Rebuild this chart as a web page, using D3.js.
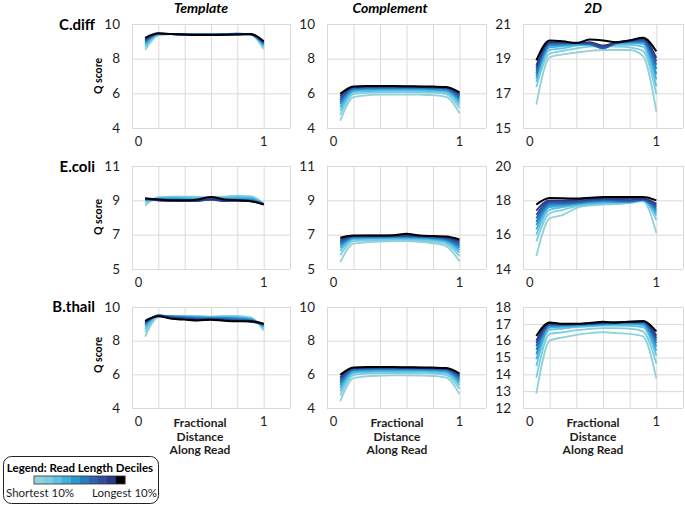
<!DOCTYPE html>
<html><head><meta charset="utf-8">
<script src="https://cdn.jsdelivr.net/npm/d3@7"></script>
<style>body{margin:0;background:#fff}svg{display:block}text{font-family:Lato,"Open Sans",sans-serif}</style>
</head><body>
<svg id="c" width="685" height="505"></svg>
<script>
// ---- data ----
const xPositions = [0.1,0.2,0.3,0.4,0.5,0.6,0.7,0.8,0.9,1.0];
const organisms = ["C.diff","E.coli","B.thail"];
const readTypes = ["Template","Complement","2D"];
const deciles = ["Shortest 10%","20%","30%","40%","50%","60%","70%","80%","90%","Longest 10%"];
const decileColors = ["#92d2d9","#7fcde0","#5fc3e3","#40b1de","#2a98d1","#257ec0","#2e64ad","#334d9c","#2a3a84","#000000"];

const yTicksCdiffTemplate = [4,6,8,10];
const yTicksCdiffComplement = [4,6,8,10];
const yTicksCdiff2D = [15,17,19,21];
const yTicksEcoliTemplate = [5,7,9,11];
const yTicksEcoliComplement = [5,7,9,11];
const yTicksEcoli2D = [14,16,18,20];
const yTicksBthailTemplate = [4,6,8,10];
const yTicksBthailComplement = [4,6,8,10];
const yTicksBthail2D = [12,13,14,15,16,17,18];

const cdiffTemplate = [
 [8.50,9.35,9.42,9.40,9.40,9.40,9.42,9.45,9.40,8.55],
 [8.65,9.38,9.42,9.40,9.40,9.40,9.42,9.45,9.40,8.65],
 [8.75,9.40,9.42,9.40,9.40,9.40,9.42,9.44,9.40,8.72],
 [8.85,9.42,9.42,9.40,9.40,9.40,9.42,9.44,9.40,8.78],
 [8.92,9.42,9.42,9.40,9.40,9.40,9.41,9.43,9.41,8.83],
 [8.98,9.43,9.42,9.40,9.39,9.39,9.40,9.42,9.41,8.87],
 [9.03,9.44,9.42,9.40,9.39,9.39,9.40,9.42,9.41,8.91],
 [9.08,9.45,9.42,9.40,9.38,9.38,9.39,9.41,9.42,8.94],
 [9.13,9.45,9.42,9.39,9.38,9.38,9.39,9.41,9.42,8.97],
 [9.20,9.46,9.42,9.39,9.37,9.37,9.38,9.40,9.43,9.00]];
const cdiffComplement = [
 [4.42,5.78,5.88,5.92,5.93,5.93,5.92,5.90,5.80,4.85],
 [4.75,5.95,6.03,6.06,6.07,6.07,6.06,6.04,5.95,5.15],
 [5.00,6.07,6.13,6.15,6.16,6.16,6.15,6.13,6.06,5.35],
 [5.20,6.15,6.20,6.22,6.23,6.23,6.22,6.20,6.14,5.50],
 [5.37,6.22,6.26,6.28,6.28,6.28,6.27,6.25,6.20,5.62],
 [5.50,6.27,6.30,6.32,6.32,6.32,6.31,6.29,6.25,5.73],
 [5.62,6.31,6.34,6.35,6.35,6.35,6.34,6.32,6.28,5.82],
 [5.73,6.34,6.37,6.37,6.38,6.37,6.36,6.35,6.31,5.90],
 [5.84,6.37,6.39,6.40,6.40,6.39,6.38,6.37,6.34,5.97],
 [5.97,6.40,6.42,6.42,6.42,6.41,6.40,6.39,6.37,6.05]];
const cdiff2D = [
 [16.35,19.08,19.25,19.35,19.45,19.50,19.50,19.50,19.15,15.95],
 [17.35,19.30,19.45,19.60,19.70,19.72,19.70,19.65,19.45,16.95],
 [17.65,19.50,19.60,19.75,19.80,19.75,19.80,19.80,19.70,17.40],
 [17.85,19.65,19.72,19.80,19.82,19.70,19.85,19.90,19.85,17.80],
 [18.00,19.75,19.80,19.85,19.82,19.65,19.88,19.95,19.95,18.10],
 [18.15,19.82,19.85,19.88,19.82,19.62,19.90,20.00,20.00,18.40],
 [18.30,19.88,19.90,19.90,19.85,19.60,19.92,20.02,20.05,18.65],
 [18.45,19.92,19.93,19.92,19.90,19.65,19.92,20.02,20.10,18.85],
 [18.60,19.95,19.95,19.90,19.95,19.75,19.95,20.05,20.15,19.05],
 [18.90,20.05,20.00,19.90,20.10,20.05,19.95,20.05,20.20,19.42]];
const ecoliTemplate = [
 [8.70,9.18,9.22,9.22,9.20,9.18,9.22,9.28,9.25,8.80],
 [8.85,9.15,9.20,9.20,9.18,9.16,9.20,9.24,9.20,8.80],
 [8.95,9.12,9.16,9.15,9.12,9.12,9.15,9.18,9.15,8.80],
 [9.00,9.10,9.12,9.10,9.08,9.10,9.10,9.12,9.10,8.80],
 [9.05,9.08,9.08,9.05,9.03,9.08,9.05,9.06,9.05,8.78],
 [9.05,9.05,9.03,9.00,9.00,9.05,9.00,9.02,9.00,8.78],
 [9.08,9.02,9.00,8.98,8.98,9.05,8.98,9.00,8.98,8.77],
 [9.08,9.00,8.98,8.96,8.97,9.05,8.96,8.98,8.96,8.77],
 [9.10,9.00,8.97,8.95,8.98,9.08,8.98,8.98,8.95,8.76],
 [9.12,9.05,9.00,9.00,9.05,9.20,9.05,9.00,8.95,8.75]];
const ecoliComplement = [
 [5.40,6.48,6.55,6.60,6.62,6.62,6.58,6.50,6.32,5.45],
 [5.80,6.62,6.66,6.68,6.70,6.70,6.66,6.60,6.45,5.75],
 [6.05,6.72,6.75,6.76,6.77,6.76,6.73,6.68,6.55,5.95],
 [6.22,6.78,6.80,6.81,6.82,6.82,6.79,6.74,6.62,6.10],
 [6.35,6.83,6.84,6.85,6.86,6.86,6.83,6.78,6.68,6.22],
 [6.45,6.86,6.87,6.88,6.89,6.89,6.86,6.82,6.73,6.32],
 [6.55,6.89,6.90,6.90,6.91,6.92,6.89,6.85,6.77,6.42],
 [6.63,6.91,6.92,6.92,6.93,6.95,6.91,6.88,6.81,6.52],
 [6.72,6.93,6.94,6.94,6.95,6.98,6.93,6.90,6.85,6.62],
 [6.82,6.95,6.95,6.95,6.96,7.05,6.95,6.92,6.90,6.72]];
const ecoli2D = [
 [14.75,16.95,17.15,17.55,17.70,17.75,17.78,17.85,17.95,16.10],
 [15.60,17.25,17.45,17.65,17.75,17.80,17.82,17.85,17.98,16.85],
 [16.00,17.45,17.60,17.72,17.80,17.85,17.86,17.88,18.00,17.10],
 [16.30,17.60,17.68,17.78,17.85,17.90,17.90,17.90,18.00,17.25],
 [16.55,17.70,17.75,17.82,17.90,17.95,17.93,17.92,18.02,17.38],
 [16.75,17.78,17.80,17.86,17.95,18.00,17.96,17.94,18.03,17.50],
 [16.95,17.85,17.86,17.90,17.98,18.03,18.00,17.97,18.05,17.60],
 [17.15,17.92,17.92,17.95,18.02,18.07,18.04,18.00,18.07,17.70],
 [17.40,18.00,18.00,18.02,18.08,18.12,18.10,18.08,18.10,17.80],
 [17.75,18.13,18.12,18.10,18.15,18.20,18.20,18.20,18.20,18.00]];
const bthailTemplate = [
 [8.24,9.40,9.45,9.45,9.45,9.42,9.45,9.45,9.38,8.60],
 [8.50,9.45,9.46,9.46,9.45,9.42,9.44,9.44,9.35,8.70],
 [8.70,9.48,9.46,9.45,9.43,9.40,9.42,9.40,9.32,8.78],
 [8.85,9.49,9.45,9.43,9.40,9.38,9.38,9.36,9.28,8.85],
 [8.95,9.50,9.44,9.40,9.37,9.35,9.35,9.32,9.25,8.88],
 [9.00,9.50,9.42,9.38,9.34,9.32,9.32,9.28,9.22,8.92],
 [9.05,9.50,9.40,9.35,9.30,9.30,9.28,9.24,9.18,8.95],
 [9.10,9.48,9.38,9.32,9.27,9.28,9.25,9.20,9.15,8.97],
 [9.14,9.47,9.35,9.28,9.24,9.26,9.22,9.17,9.12,8.98],
 [9.18,9.45,9.30,9.25,9.20,9.25,9.18,9.15,9.15,9.00]];
const bthailComplement = [
 [4.40,5.78,5.88,5.92,5.94,5.94,5.93,5.90,5.80,4.82],
 [4.75,5.96,6.04,6.07,6.08,6.08,6.07,6.05,5.96,5.15],
 [5.00,6.08,6.14,6.16,6.17,6.17,6.16,6.14,6.07,5.35],
 [5.20,6.16,6.21,6.23,6.24,6.24,6.23,6.21,6.15,5.50],
 [5.37,6.23,6.27,6.29,6.29,6.29,6.28,6.26,6.21,5.62],
 [5.50,6.28,6.31,6.33,6.33,6.33,6.32,6.30,6.26,5.73],
 [5.62,6.32,6.35,6.36,6.36,6.36,6.35,6.33,6.29,5.82],
 [5.73,6.35,6.38,6.38,6.39,6.38,6.37,6.36,6.32,5.90],
 [5.84,6.38,6.40,6.41,6.41,6.40,6.39,6.38,6.35,5.97],
 [5.97,6.41,6.43,6.43,6.43,6.42,6.41,6.40,6.38,6.05]];
const bthail2D = [
 [12.85,16.00,16.20,16.35,16.45,16.50,16.45,16.40,16.25,13.75],
 [13.80,16.40,16.50,16.62,16.70,16.75,16.75,16.72,16.55,14.65],
 [14.50,16.65,16.72,16.80,16.85,16.90,16.90,16.88,16.80,15.10],
 [14.90,16.78,16.82,16.88,16.92,16.95,16.98,16.98,16.92,15.40],
 [15.20,16.86,16.88,16.92,16.96,17.00,17.02,17.04,17.00,15.65],
 [15.45,16.92,16.92,16.95,16.98,17.02,17.05,17.08,17.06,15.85],
 [15.68,16.96,16.95,16.97,17.00,17.04,17.07,17.10,17.10,16.02],
 [15.85,17.00,16.97,16.98,17.02,17.05,17.08,17.12,17.14,16.15],
 [16.00,17.03,16.98,16.99,17.03,17.06,17.08,17.13,17.18,16.30],
 [16.28,17.08,17.00,17.00,17.05,17.12,17.08,17.12,17.15,16.55]];

// ---- layout ----
const colLeft = [132, 327, 523], colRight = [290, 486, 683];
const rowTop = [24, 166, 307], rowBottom = [128, 269, 408];
const panels = [
 {r:0,c:0,data:cdiffTemplate,ticks:yTicksCdiffTemplate},
 {r:0,c:1,data:cdiffComplement,ticks:yTicksCdiffComplement},
 {r:0,c:2,data:cdiff2D,ticks:yTicksCdiff2D},
 {r:1,c:0,data:ecoliTemplate,ticks:yTicksEcoliTemplate},
 {r:1,c:1,data:ecoliComplement,ticks:yTicksEcoliComplement},
 {r:1,c:2,data:ecoli2D,ticks:yTicksEcoli2D},
 {r:2,c:0,data:bthailTemplate,ticks:yTicksBthailTemplate},
 {r:2,c:1,data:bthailComplement,ticks:yTicksBthailComplement},
 {r:2,c:2,data:bthail2D,ticks:yTicksBthail2D}];

const svg = d3.select("#c");
const textCol = "#1e1e1e";
const gridX = d3.range(0, 1.21, 0.2);

panels.forEach(p => {
  const x = d3.scaleLinear().domain([0,1.2]).range([colLeft[p.c], colRight[p.c]]);
  const y = d3.scaleLinear().domain(d3.extent(p.ticks)).range([rowBottom[p.r], rowTop[p.r]]);
  const g = svg.append("g");
  const ya = d3.axisLeft(y).tickValues(p.ticks).tickSize(-(colRight[p.c]-colLeft[p.c])).tickPadding(12).tickFormat(d3.format("d"));
  const yg = g.append("g").attr("transform", `translate(${colLeft[p.c]},0)`).call(ya);
  yg.select(".domain").remove();
  yg.selectAll("line").attr("stroke","#d9d9d9");
  yg.selectAll("text").attr("font-size",13.5).attr("fill",textCol).attr("font-family","Lato, sans-serif");
  const xa = d3.axisBottom(x).tickValues(gridX).tickSize(-(rowBottom[p.r]-rowTop[p.r])).tickFormat("");
  const xg = g.append("g").attr("transform", `translate(0,${rowBottom[p.r]})`).call(xa);
  xg.select(".domain").remove();
  xg.selectAll("line").attr("stroke","#d9d9d9");
  [[0.05,"0"],[1.0,"1"]].forEach(([v,t]) => {
    g.append("text").attr("x", x(v)).attr("y", rowBottom[p.r]+18).attr("text-anchor","middle")
     .attr("font-size",13).attr("fill",textCol).text(t);
  });
  const line = d3.line().x((d,i)=>x(xPositions[i])).y(d=>y(d)).curve(d3.curveMonotoneX);
  g.append("g").selectAll("path").data(p.data).join("path")
   .attr("d", line).attr("fill","none")
   .attr("stroke",(d,i)=>decileColors[i]).attr("stroke-width",(d,i)=> i===9 ? 2 : 1.8)
   .attr("stroke-linejoin","round");
});

const colCenters = [201, 390, 593];
readTypes.forEach((t,i)=>{
  svg.append("text").attr("x",colCenters[i]).attr("y",13).attr("text-anchor","middle")
   .attr("font-size",14).attr("font-weight","bold").attr("font-style","italic").attr("fill","#000").text(t);
});
const rowTitleY = [30, 172, 312];
const qCenters = [76, 217, 355];
organisms.forEach((o,i)=>{
  svg.append("text").attr("x",95).attr("y",rowTitleY[i]).attr("text-anchor","end")
   .attr("font-size",15).attr("font-weight","bold").attr("fill","#000").text(o);
  svg.append("text").attr("transform",`translate(102,${qCenters[i]}) rotate(-90)`).attr("text-anchor","middle")
   .attr("font-size",10.5).attr("font-weight","bold").attr("fill","#000").text("Q score");
});
const xTitleLines = ["Fractional","Distance","Along Read"];
const xTitleCenters = [200, 397, 593];
xTitleCenters.forEach(cx=>{
  xTitleLines.forEach((t,j)=>{
    svg.append("text").attr("x",cx).attr("y",427+j*13.5).attr("text-anchor","middle")
     .attr("font-size",12).attr("font-weight","bold").attr("fill",textCol).text(t);
  });
});
const lg = svg.append("g");
lg.append("rect").attr("x",3.5).attr("y",456.5).attr("width",155).attr("height",47).attr("rx",8)
  .attr("fill","#fff").attr("stroke","#222").attr("stroke-width",1);
lg.append("text").attr("x",80).attr("y",472).attr("text-anchor","middle").attr("font-size",11.5)
  .attr("font-weight","bold").attr("fill","#000").text("Legend: Read Length Deciles");
const lx = d3.scaleBand().domain(d3.range(10)).range([34,125]);
lg.selectAll("rect.sw").data(decileColors).join("rect").attr("class","sw")
  .attr("x",(d,i)=>lx(i)).attr("y",476).attr("width",lx.bandwidth()+0.3).attr("height",8).attr("fill",d=>d);
lg.append("rect").attr("x",34).attr("y",476).attr("width",91).attr("height",8).attr("fill","none").attr("stroke","#333").attr("stroke-width",0.8);
lg.append("text").attr("x",6).attr("y",497).attr("font-size",11.5).attr("fill",textCol).text(deciles[0]);
lg.append("text").attr("x",157).attr("y",497).attr("text-anchor","end").attr("font-size",11.5).attr("fill",textCol).text(deciles[9]);
</script>
</body></html>
